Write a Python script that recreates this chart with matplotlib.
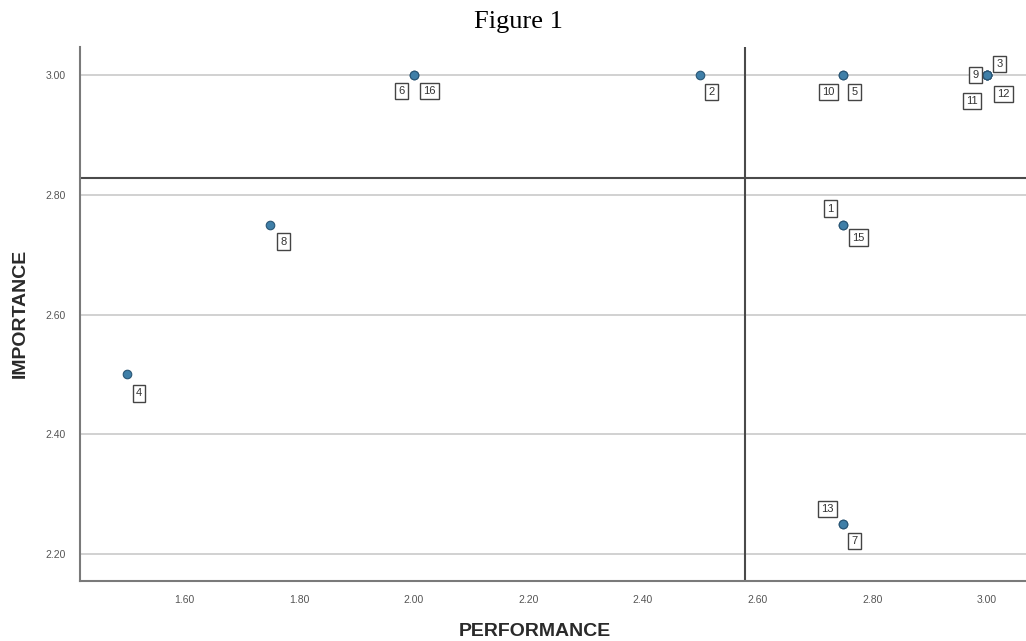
import matplotlib
matplotlib.use("Agg")
import matplotlib.pyplot as plt
import numpy as np

# Data: item ids, performance (x), importance (y)
item_ids = [1, 2, 3, 4, 5, 6, 7, 8, 9, 10, 11, 12, 13, 14, 15, 16]
performance = [2.75, 2.50, 3.00, 1.50, 2.75, 2.00, 2.75, 1.75, 3.00, 2.75, 3.00, 3.00, 2.75, 3.00, 2.75, 2.00]
importance = [2.75, 3.00, 3.00, 2.50, 3.00, 3.00, 2.25, 2.75, 3.00, 3.00, 3.00, 3.00, 2.25, 3.00, 2.75, 3.00]
x_ticks = [1.60, 1.80, 2.00, 2.20, 2.40, 2.60, 2.80, 3.00]
y_ticks = [2.20, 2.40, 2.60, 2.80, 3.00]

# label offsets in pixels (dx right, dy down); item 14 label is hidden
label_offsets = {
    1: (-13, -16), 2: (11, 17), 3: (13, -11), 4: (12, 19), 5: (11, 17),
    6: (-12, 16), 7: (11, 17), 8: (13, 17), 9: (-11, 0), 10: (-15, 17),
    11: (-15, 26), 12: (17, 19), 13: (-16, -15), 15: (15, 13), 16: (16, 16),
}

W, H = 1026, 641
fig = plt.figure(figsize=(W / 100, H / 100), dpi=100)
ax = fig.add_axes([80 / W, 1 - 581 / H, (W - 80) / W + 0.002, (581 - 47) / H])

ax.set_xlim(1.418, 3.072)
ax.set_ylim(2.155, 3.047)

for yt in y_ticks:
    ax.axhline(yt, color="#c9c9c9", lw=1.2, zorder=0)

mean_x = np.mean(performance)
mean_y = np.mean(importance)
ax.axvline(mean_x, color="#4a4a4a", lw=1.5, zorder=1)
ax.axhline(mean_y, color="#4a4a4a", lw=1.5, zorder=1)

ax.scatter(performance, importance, s=38, facecolor="#3f7fa8", edgecolor="#2a5675",
           linewidth=0.8, zorder=3)

for i, px, py in zip(item_ids, performance, importance):
    if i not in label_offsets:
        continue
    dx, dy = label_offsets[i]
    ax.annotate(str(i), (px, py), xytext=(dx * 0.72, -dy * 0.72), textcoords="offset points",
                ha="center", va="center", fontsize=8, color="#333333",
                family="Liberation Sans",
                bbox=dict(boxstyle="square,pad=0.3", fc="white", ec="#444444", lw=1.0),
                zorder=4)

ax.set_xticks(x_ticks)
ax.set_xticklabels([f"{v:.2f}" for v in x_ticks])
ax.set_yticks(y_ticks)
ax.set_yticklabels([f"{v:.2f}" for v in y_ticks])
ax.tick_params(axis="both", length=0, labelsize=7.5, labelcolor="#555555")
ax.tick_params(axis="x", pad=10)
ax.tick_params(axis="y", pad=10)
for lab in ax.get_xticklabels() + ax.get_yticklabels():
    lab.set_family("Liberation Sans")

for s in ["top", "right"]:
    ax.spines[s].set_visible(False)
for s in ["left", "bottom"]:
    ax.spines[s].set_color("#7a7a7a")
    ax.spines[s].set_linewidth(1.5)

fig.text(535 / W, 1 - 632 / H, "PERFORMANCE", ha="center", va="center",
         fontsize=14, fontweight="bold", family="Liberation Sans", color="#2a2a2a")
fig.text(20 / W, 1 - 313 / H, "IMPORTANCE", ha="center", va="center", rotation=90,
         fontsize=14, fontweight="bold", family="Liberation Sans", color="#2a2a2a")
fig.text(518 / W, 1 - 22 / H, "Figure 1", ha="center", va="center",
         fontsize=19, family="Liberation Serif", color="black")

fig.savefig("out.png", dpi=100)
